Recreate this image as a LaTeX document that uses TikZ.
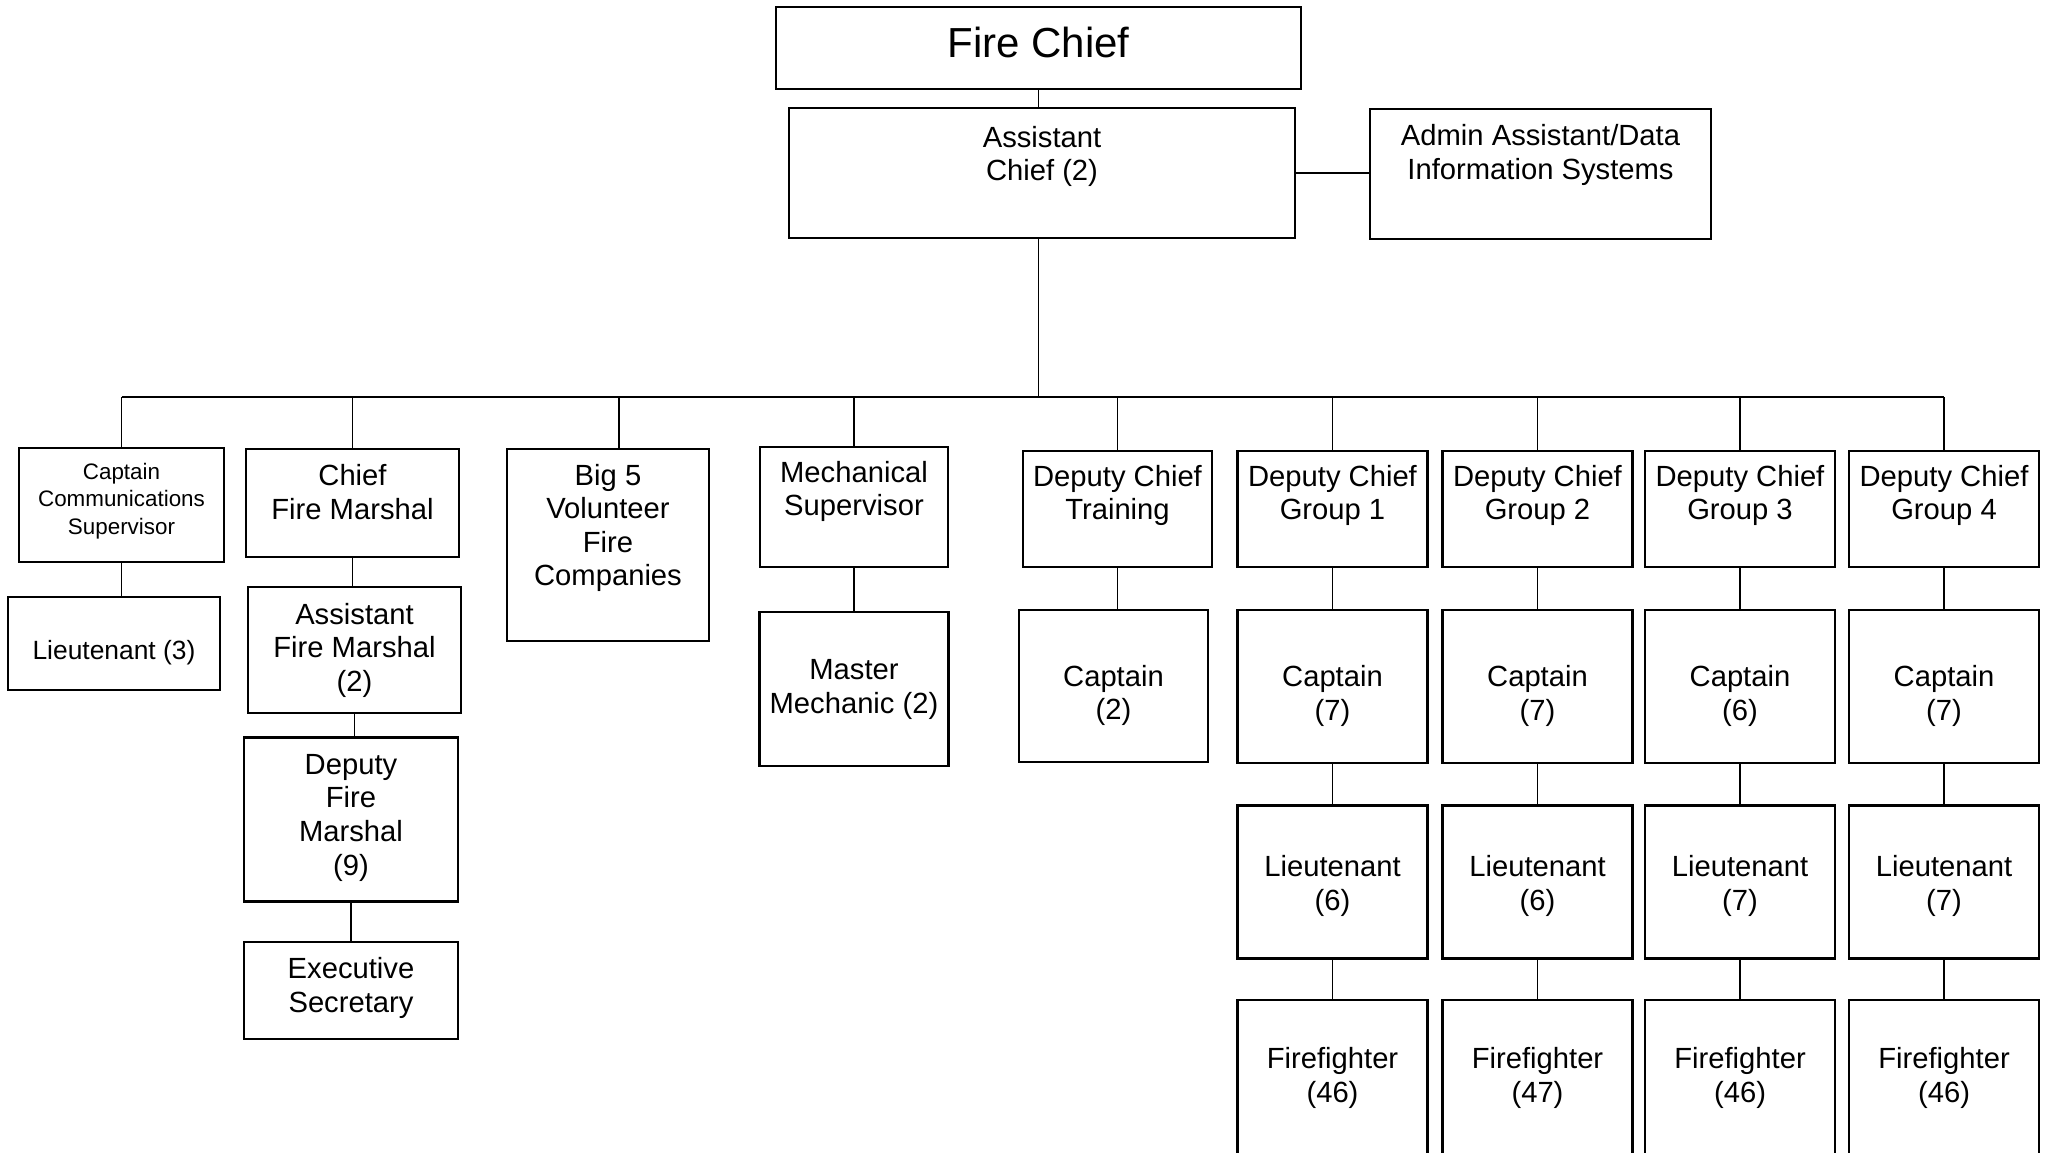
\documentclass[tikz,border=0pt]{standalone}
\usepackage{fontspec}
\setmainfont{Liberation Sans}
\usetikzlibrary{positioning}

\tikzstyle{boxNode} = [rectangle, draw=black, line width=1.15pt, align=center, inner sep=2pt, font=\fontsize{14.6pt}{16.8pt}\selectfont]
\tikzstyle{link} = [line width=0.85pt]
\tikzstyle{busLine} = [line width=1pt]

\begin{document}
\begin{tikzpicture}[x=1pt, y=1pt, lift/.style={text depth=#1}, sink/.style={text height=#1}]
    \useasboundingbox (0,0) rectangle (1023,-576);

    % command staff
    \node (chief)[boxNode, minimum width=262.5pt, minimum height=41pt, lift=6pt, font=\fontsize{21pt}{24pt}\selectfont] at (519.25,-24) {Fire Chief};
    \node (assistant)[boxNode, minimum width=253pt, minimum height=65pt, lift=19.4pt] at (521,-86.5) {Assistant\\Chief (2)};
    \node (admin)[boxNode, minimum width=170.5pt, minimum height=65pt, lift=22pt] at (770.25,-87) {Admin Assistant/Data\\Information Systems};
    \coordinate (bus) at (0,-198.5);

    % divisions
    \node (comms)[boxNode, minimum width=102.5pt, minimum height=57pt, lift=6.4pt, font=\fontsize{11.2pt}{13.8pt}\selectfont] at (60.75,-252.5) {Captain\\Communications\\Supervisor};
    \node (marshal)[boxNode, minimum width=106.5pt, minimum height=54pt, lift=11pt] at (176.25,-251.5) {Chief\\Fire Marshal};
    \node (big5)[boxNode, minimum width=101pt, minimum height=96pt, lift=20pt] at (304,-272.5) {Big 5\\Volunteer\\Fire\\Companies};
    \node (mech)[boxNode, minimum width=94pt, minimum height=60pt, lift=18.4pt] at (427,-253.5) {Mechanical\\Supervisor};
    \node (training)[boxNode, minimum width=94.5pt, minimum height=58pt, lift=16.4pt] at (558.75,-254.5) {Deputy Chief\\Training};
    \node (group1)[boxNode, minimum width=95pt, minimum height=58pt, lift=16.4pt] at (666.25,-254.5) {Deputy Chief\\Group 1};
    \node (group2)[boxNode, minimum width=95pt, minimum height=58pt, lift=16.4pt] at (768.75,-254.5) {Deputy Chief\\Group 2};
    \node (group3)[boxNode, minimum width=95pt, minimum height=58pt, lift=16.4pt] at (870,-254.5) {Deputy Chief\\Group 3};
    \node (group4)[boxNode, minimum width=95pt, minimum height=58pt, lift=16.4pt] at (972,-254.5) {Deputy Chief\\Group 4};

    % staff under the divisions
    \node (commsLt)[boxNode, below=16.5pt of comms, xshift=-3.75pt, minimum width=106pt, minimum height=46.5pt, sink=18.7pt, font=\fontsize{13.2pt}{15pt}\selectfont] {Lieutenant (3)};
    \node (asstMarshal)[boxNode, below=14pt of marshal, xshift=1pt, minimum width=106.5pt, minimum height=63pt] {Assistant\\Fire Marshal\\(2)};
    \node (depMarshal)[boxNode, below=11pt of asstMarshal, xshift=-1.75pt, minimum width=107pt, minimum height=82pt, lift=5pt] {Deputy\\Fire\\Marshal\\(9)};
    \node (secretary)[boxNode, below=19pt of depMarshal, minimum width=107pt, minimum height=48.5pt, lift=5.7pt] {Executive\\Secretary};
    \node (master)[boxNode, below=21.5pt of mech, minimum width=94.5pt, minimum height=77pt] {Master\\Mechanic (2)};
    \node (trainCapt)[boxNode, below=20.5pt of training, xshift=-2pt, minimum width=94.5pt, minimum height=76pt, sink=36.5pt] {Captain\\(2)};

    \node (capt1)[boxNode, below=20.5pt of group1, minimum width=95pt, minimum height=76.5pt, sink=36.5pt] {Captain\\(7)};
    \node (capt2)[boxNode, below=20.5pt of group2, minimum width=95pt, minimum height=76.5pt, sink=36.5pt] {Captain\\(7)};
    \node (capt3)[boxNode, below=20.5pt of group3, minimum width=95pt, minimum height=76.5pt, sink=36.5pt] {Captain\\(6)};
    \node (capt4)[boxNode, below=20.5pt of group4, minimum width=95pt, minimum height=76.5pt, sink=36.5pt] {Captain\\(7)};
    \node (lt1)[boxNode, below=20pt of capt1, minimum width=95pt, minimum height=76.5pt, sink=31.4pt] {Lieutenant\\(6)};
    \node (lt2)[boxNode, below=20pt of capt2, minimum width=95pt, minimum height=76.5pt, sink=31.4pt] {Lieutenant\\(6)};
    \node (lt3)[boxNode, below=20pt of capt3, minimum width=95pt, minimum height=76.5pt, sink=31.4pt] {Lieutenant\\(7)};
    \node (lt4)[boxNode, below=20pt of capt4, minimum width=95pt, minimum height=76.5pt, sink=31.4pt] {Lieutenant\\(7)};
    \node (ff1)[boxNode, below=19.5pt of lt1, minimum width=95pt, minimum height=78pt] {Firefighter\\(46)};
    \node (ff2)[boxNode, below=19.5pt of lt2, minimum width=95pt, minimum height=78pt] {Firefighter\\(47)};
    \node (ff3)[boxNode, below=19.5pt of lt3, minimum width=95pt, minimum height=78pt] {Firefighter\\(46)};
    \node (ff4)[boxNode, below=19.5pt of lt4, minimum width=95pt, minimum height=78pt] {Firefighter\\(46)};

    % connectors
    \draw [link] (chief.south) -- (chief.south |- assistant.north);
    \draw [busLine] (assistant.east) -- (assistant.east -| admin.west);
    \draw [link] (chief.south |- assistant.south) -- (chief.south |- bus);
    \draw [busLine] (comms.north |- bus) -- (group4.north |- bus);

    \draw [link] (comms.north) -- (comms.north |- bus);
    \draw [link] (marshal.north) -- (marshal.north |- bus);
    \draw [link] ([xshift=5.5pt]big5.north) -- ([xshift=5.5pt]big5.north |- bus);
    \draw [link] (mech.north) -- (mech.north |- bus);
    \draw [link] (training.north) -- (training.north |- bus);
    \draw [link] (group1.north) -- (group1.north |- bus);
    \draw [link] (group2.north) -- (group2.north |- bus);
    \draw [link] (group3.north) -- (group3.north |- bus);
    \draw [link] (group4.north) -- (group4.north |- bus);

    \draw [link] (comms.south) -- (comms.south |- commsLt.north);
    \draw [link] (marshal.south) -- (marshal.south |- asstMarshal.north);
    \draw [link] (asstMarshal.south) -- (asstMarshal.south |- depMarshal.north);
    \draw [link] (depMarshal.south) -- (secretary.north);
    \draw [link] (mech.south) -- (master.north);
    \draw [link] (training.south) -- (training.south |- trainCapt.north);

    \draw [link] (group1.south) -- (capt1.north);
    \draw [link] (group2.south) -- (capt2.north);
    \draw [link] (group3.south) -- (capt3.north);
    \draw [link] (group4.south) -- (capt4.north);
    \draw [link] (capt1.south) -- (lt1.north);
    \draw [link] (capt2.south) -- (lt2.north);
    \draw [link] (capt3.south) -- (lt3.north);
    \draw [link] (capt4.south) -- (lt4.north);
    \draw [link] (lt1.south) -- (ff1.north);
    \draw [link] (lt2.south) -- (ff2.north);
    \draw [link] (lt3.south) -- (ff3.north);
    \draw [link] (lt4.south) -- (ff4.north);

\end{tikzpicture}
\end{document}
